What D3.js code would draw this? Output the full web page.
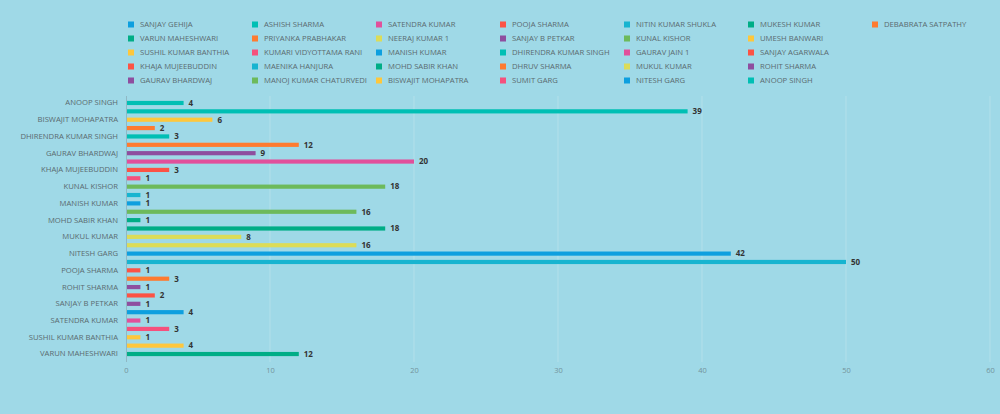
<!DOCTYPE html>
<html>
<head>
<meta charset="utf-8">
<script src="https://cdn.jsdelivr.net/npm/d3@7"></script>
<style>
  html, body { margin: 0; padding: 0; background: #9fd9e7; }
  svg { display: block; }
</style>
</head>
<body>
<svg id="chart" width="1000" height="414"></svg>
<script>
// ---------- DATA ----------
const categories = [
  "ANOOP SINGH", "ASHISH SHARMA", "BISWAJIT MOHAPATRA", "DEBABRATA SATPATHY",
  "DHIRENDRA KUMAR SINGH", "DHRUV SHARMA", "GAURAV BHARDWAJ", "GAURAV JAIN 1",
  "KHAJA MUJEEBUDDIN", "KUMARI VIDYOTTAMA RANI", "KUNAL KISHOR", "MAENIKA HANJURA",
  "MANISH KUMAR", "MANOJ KUMAR CHATURVEDI", "MOHD SABIR KHAN", "MUKESH KUMAR",
  "MUKUL KUMAR", "NEERAJ KUMAR 1", "NITESH GARG", "NITIN KUMAR SHUKLA",
  "POOJA SHARMA", "PRIYANKA PRABHAKAR", "ROHIT SHARMA", "SANJAY AGARWALA",
  "SANJAY B PETKAR", "SANJAY GEHIJA", "SATENDRA KUMAR", "SUMIT GARG",
  "SUSHIL KUMAR BANTHIA", "UMESH BANWARI", "VARUN MAHESHWARI"
];
const values = [
  4, 39, 6, 2,
  3, 12, 9, 20,
  3, 1, 18, 1,
  1, 16, 1, 18,
  8, 16, 42, 50,
  1, 3, 1, 2,
  1, 4, 1, 3,
  1, 4, 12
];
// legend / series order (legend is filled column by column, 5 rows)
const seriesNames = [
  "SANJAY GEHIJA", "VARUN MAHESHWARI", "SUSHIL KUMAR BANTHIA", "KHAJA MUJEEBUDDIN", "GAURAV BHARDWAJ",
  "ASHISH SHARMA", "PRIYANKA PRABHAKAR", "KUMARI VIDYOTTAMA RANI", "MAENIKA HANJURA", "MANOJ KUMAR CHATURVEDI",
  "SATENDRA KUMAR", "NEERAJ KUMAR 1", "MANISH KUMAR", "MOHD SABIR KHAN", "BISWAJIT MOHAPATRA",
  "POOJA SHARMA", "SANJAY B PETKAR", "DHIRENDRA KUMAR SINGH", "DHRUV SHARMA", "SUMIT GARG",
  "NITIN KUMAR SHUKLA", "KUNAL KISHOR", "GAURAV JAIN 1", "MUKUL KUMAR", "NITESH GARG",
  "MUKESH KUMAR", "UMESH BANWARI", "SANJAY AGARWALA", "ROHIT SHARMA", "ANOOP SINGH",
  "DEBABRATA SATPATHY"
];
const palette = [
  "#0d9fdf", "#00ad86", "#fec73c", "#fc5345", "#8e4e9f", "#00bfb4",
  "#fe7b30", "#f5517d", "#17b4d0", "#6dba5b", "#e1509b", "#dcdc58"
];
const xTicks = [0, 10, 20, 30, 40, 50, 60];

// ---------- CHART ----------
const svg = d3.select("#chart");
const color = d3.scaleOrdinal().domain(seriesNames).range(palette);

const x = d3.scaleLinear().domain([0, 60]).range([126, 990]);
const y = d3.scaleBand().domain(categories).range([96.7, 360.3]).padding(0.5);

const fontFam = "'Open Sans', 'DejaVu Sans', sans-serif";

// gridlines
svg.append("g")
  .selectAll("line")
  .data(xTicks.slice(1))
  .join("line")
  .attr("x1", d => x(d)).attr("x2", d => x(d))
  .attr("y1", 96).attr("y2", 362)
  .attr("stroke", "#b3e0ea").attr("stroke-width", 1);

// x axis (labels only)
const xAxis = svg.append("g")
  .attr("transform", "translate(0,365)")
  .call(d3.axisBottom(x).tickValues(xTicks).tickSize(0).tickPadding(3));
xAxis.select(".domain").remove();
xAxis.selectAll("text")
  .attr("fill", "#74939b")
  .style("font-family", fontFam)
  .style("font-size", "7.5px");

// y axis
const yAxis = svg.append("g")
  .attr("transform", "translate(126,0)")
  .call(d3.axisLeft(y).tickSize(0).tickPadding(8)
    .tickFormat((d, i) => i % 2 === 0 ? d : ""));
yAxis.select(".domain")
  .attr("stroke", "#8fb8c4")
  .attr("d", "M0.5,96V362");
yAxis.selectAll("text")
  .attr("fill", "#5a6b70")
  .style("font-family", fontFam)
  .style("font-size", "7.7px");

// bars
svg.append("g")
  .selectAll("rect")
  .data(categories)
  .join("rect")
  .attr("x", x(0) + 1)
  .attr("y", d => y(d))
  .attr("width", (d, i) => x(values[i]) - x(0) - 1)
  .attr("height", y.bandwidth())
  .attr("fill", d => color(d));

// data labels
svg.append("g")
  .selectAll("text")
  .data(categories)
  .join("text")
  .attr("x", (d, i) => x(values[i]) + 5)
  .attr("y", d => y(d) + y.bandwidth() / 2)
  .attr("dy", "0.35em")
  .attr("fill", "#333333")
  .style("font-family", fontFam)
  .style("font-size", "8px")
  .style("font-weight", "bold")
  .text((d, i) => values[i]);

// legend (column-major, 5 rows)
const legRows = 5, legX0 = 128, legDX = 124, legY0 = 24.5, legDY = 14;
const leg = svg.append("g")
  .selectAll("g")
  .data(seriesNames)
  .join("g")
  .attr("transform", (d, i) => `translate(${legX0 + Math.floor(i / legRows) * legDX},${legY0 + (i % legRows) * legDY})`);
leg.append("rect")
  .attr("x", 0).attr("y", -3).attr("width", 6).attr("height", 6)
  .attr("fill", d => color(d));
leg.append("text")
  .attr("x", 12).attr("y", 0).attr("dy", "0.35em")
  .attr("fill", "#5a6b70")
  .style("font-family", fontFam)
  .style("font-size", "7.7px")
  .text(d => d);
</script>
</body>
</html>
